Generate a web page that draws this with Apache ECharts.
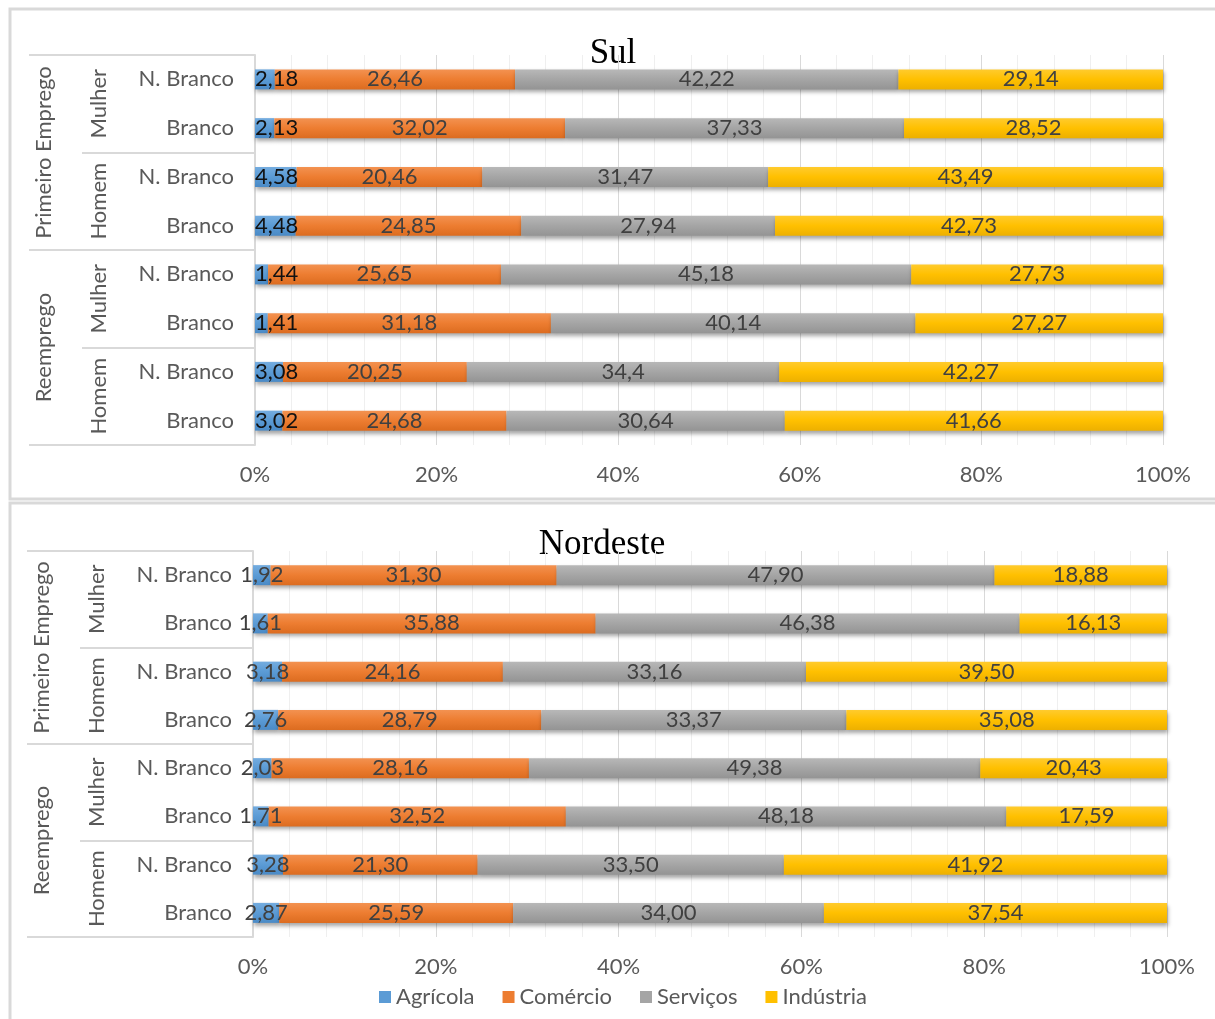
<!DOCTYPE html>
<html>
<head>
<meta charset="utf-8">
<script src="https://cdn.jsdelivr.net/npm/echarts@6/dist/echarts.min.js"></script>
<style>
  html, body { margin: 0; padding: 0; background: #fff; }
  #chart { width: 1215px; height: 1019px; }
</style>
</head>
<body>
<div id="chart"></div>
<script>
// rótulos do eixo (de cima para baixo)
const categorias = ["N. Branco", "Branco", "N. Branco", "Branco", "N. Branco", "Branco", "N. Branco", "Branco"]
const generos = ["Mulher", "Homem", "Mulher", "Homem"]
const situacoes = ["Primeiro Emprego", "Reemprego"]
const setores = ["Agrícola", "Comércio", "Serviços", "Indústria"]
const xTicks = [0, 20, 40, 60, 80, 100]

// Sul
const sulAgricola = [2.18, 2.13, 4.58, 4.48, 1.44, 1.41, 3.08, 3.02]
const sulComercio = [26.46, 32.02, 20.46, 24.85, 25.65, 31.18, 20.25, 24.68]
const sulServicos = [42.22, 37.33, 31.47, 27.94, 45.18, 40.14, 34.4, 30.64]
const sulIndustria = [29.14, 28.52, 43.49, 42.73, 27.73, 27.27, 42.27, 41.66]

// Nordeste
const neAgricola = [1.92, 1.61, 3.18, 2.76, 2.03, 1.71, 3.28, 2.87]
const neComercio = [31.3, 35.88, 24.16, 28.79, 28.16, 32.52, 21.3, 25.59]
const neServicos = [47.9, 46.38, 33.16, 33.37, 49.38, 48.18, 33.5, 34.0]
const neIndustria = [18.88, 16.13, 39.5, 35.08, 20.43, 17.59, 41.92, 37.54]

const cores = ["#5B9BD5", "#ED7D31", "#A5A5A5", "#FFC000"]
const coresClaras = ["#74ACDF", "#F39251", "#B8B8B8", "#FFCB2E"]
const coresEscuras = ["#4A8AC6", "#DC6C20", "#949494", "#EDB000"]

const fonte = "Lato"
const cinzaTexto = "#595959"
const cinzaLinha = "#d9d9d9"

const chart = echarts.init(document.getElementById("chart"))

function xAxisDe(gridIndex) {
  return {
    gridIndex,
    type: "value",
    min: xTicks[0],
    max: xTicks[xTicks.length - 1],
    interval: 20,
    axisLine: { show: false },
    axisTick: { show: false },
    axisLabel: {
      formatter: "{value}%",
      color: cinzaTexto,
      fontSize: 22,
      fontFamily: fonte,
      margin: 19,
    },
    splitLine: { show: true, lineStyle: { color: cinzaLinha, width: 1 } },
    minorTick: { show: false, splitNumber: 5 },
    minorSplitLine: { show: true, lineStyle: { color: "#efefef", width: 1 } },
  }
}

function yAxesDe(gridIndex) {
  return [
    {
      gridIndex,
      position: "left",
      type: "category",
      data: categorias,
      inverse: true,
      axisLine: { show: true, lineStyle: { color: cinzaLinha, width: 2 } },
      axisTick: { show: false },
      axisLabel: { interval: 0, color: cinzaTexto, fontSize: 22, fontFamily: fonte, margin: 21 },
    },
    {
      gridIndex,
      position: "left",
      type: "category",
      data: generos,
      inverse: true,
      axisLine: { show: false },
      axisTick: { show: true, interval: 0, length: 173, lineStyle: { color: cinzaLinha, width: 2 } },
      axisLabel: { interval: 0, rotate: 90, color: cinzaTexto, fontSize: 22, fontFamily: fonte, margin: 145 },
    },
    {
      gridIndex,
      position: "left",
      type: "category",
      data: situacoes,
      inverse: true,
      axisLine: { show: false },
      axisTick: { show: true, interval: 0, length: 226, lineStyle: { color: cinzaLinha, width: 2 } },
      axisLabel: { interval: 0, rotate: 90, color: cinzaTexto, fontSize: 22, fontFamily: fonte, margin: 200 },
    },
  ]
}

function serieDe(nome, idx, dados, gridIndex, formato, labelExtra) {
  return {
    name: nome,
    type: "bar",
    stack: "g" + gridIndex,
    xAxisIndex: gridIndex,
    yAxisIndex: gridIndex * 3,
    data: dados,
    barWidth: 20,
    itemStyle: {
      color: new echarts.graphic.LinearGradient(0, 0, 0, 1, [
        { offset: 0, color: coresClaras[idx] },
        { offset: 0.5, color: cores[idx] },
        { offset: 1, color: coresEscuras[idx] },
      ]),
      shadowColor: "rgba(0, 0, 0, 0.35)",
      shadowBlur: 4,
      shadowOffsetX: 1,
      shadowOffsetY: 3,
    },
    label: Object.assign(
      {
        show: true,
        position: "inside",
        color: "#404040",
        fontSize: 22,
        fontFamily: fonte,
        formatter: formato,
      },
      labelExtra || {}
    ),
  }
}

const fmtSul = (p) => String(p.value).replace(".", ",")
const fmtNe = (p) => p.value.toFixed(2).replace(".", ",")

const option = {
  backgroundColor: "#fff",
  animation: false,
  graphic: [
    { type: "rect", shape: { x: 10, y: 9, width: 1215, height: 490 }, style: { fill: "none", stroke: cinzaLinha, lineWidth: 3 }, z: -10 },
    { type: "rect", shape: { x: 10, y: 503, width: 1215, height: 530 }, style: { fill: "none", stroke: cinzaLinha, lineWidth: 3 }, z: -10 },
    { type: "text", x: 613, y: 54, style: { text: "Sul", font: '35px "Liberation Serif"', fill: "#000", align: "center", verticalAlign: "middle" } },
    { type: "text", x: 602, y: 545, style: { text: "Nordeste", font: '35px "Liberation Serif"', fill: "#000", align: "center", verticalAlign: "middle" } },
  ],
  legend: {
    left: 379,
    top: 986,
    padding: 0,
    icon: "rect",
    itemWidth: 12,
    itemHeight: 12,
    itemGap: 28,
    textStyle: { color: cinzaTexto, fontSize: 22, fontFamily: fonte },
    data: setores.map((s, i) => ({ name: s, itemStyle: { color: cores[i] } })),
  },
  grid: [
    { left: 255, right: 52, top: 55, height: 390, outerBoundsMode: "none" },
    { left: 253, right: 48, top: 551, height: 386, outerBoundsMode: "none" },
  ],
  xAxis: [xAxisDe(0), xAxisDe(1)],
  yAxis: [...yAxesDe(0), ...yAxesDe(1)],
  series: [
    serieDe(setores[0], 0, sulAgricola, 0, fmtSul, { position: "insideLeft", distance: 0, color: "#111" }),
    serieDe(setores[1], 1, sulComercio, 0, fmtSul),
    serieDe(setores[2], 2, sulServicos, 0, fmtSul),
    serieDe(setores[3], 3, sulIndustria, 0, fmtSul),
    serieDe(setores[0], 0, neAgricola, 1, fmtNe),
    serieDe(setores[1], 1, neComercio, 1, fmtNe),
    serieDe(setores[2], 2, neServicos, 1, fmtNe),
    serieDe(setores[3], 3, neIndustria, 1, fmtNe),
  ],
}

chart.setOption(option)
</script>
</body>
</html>
